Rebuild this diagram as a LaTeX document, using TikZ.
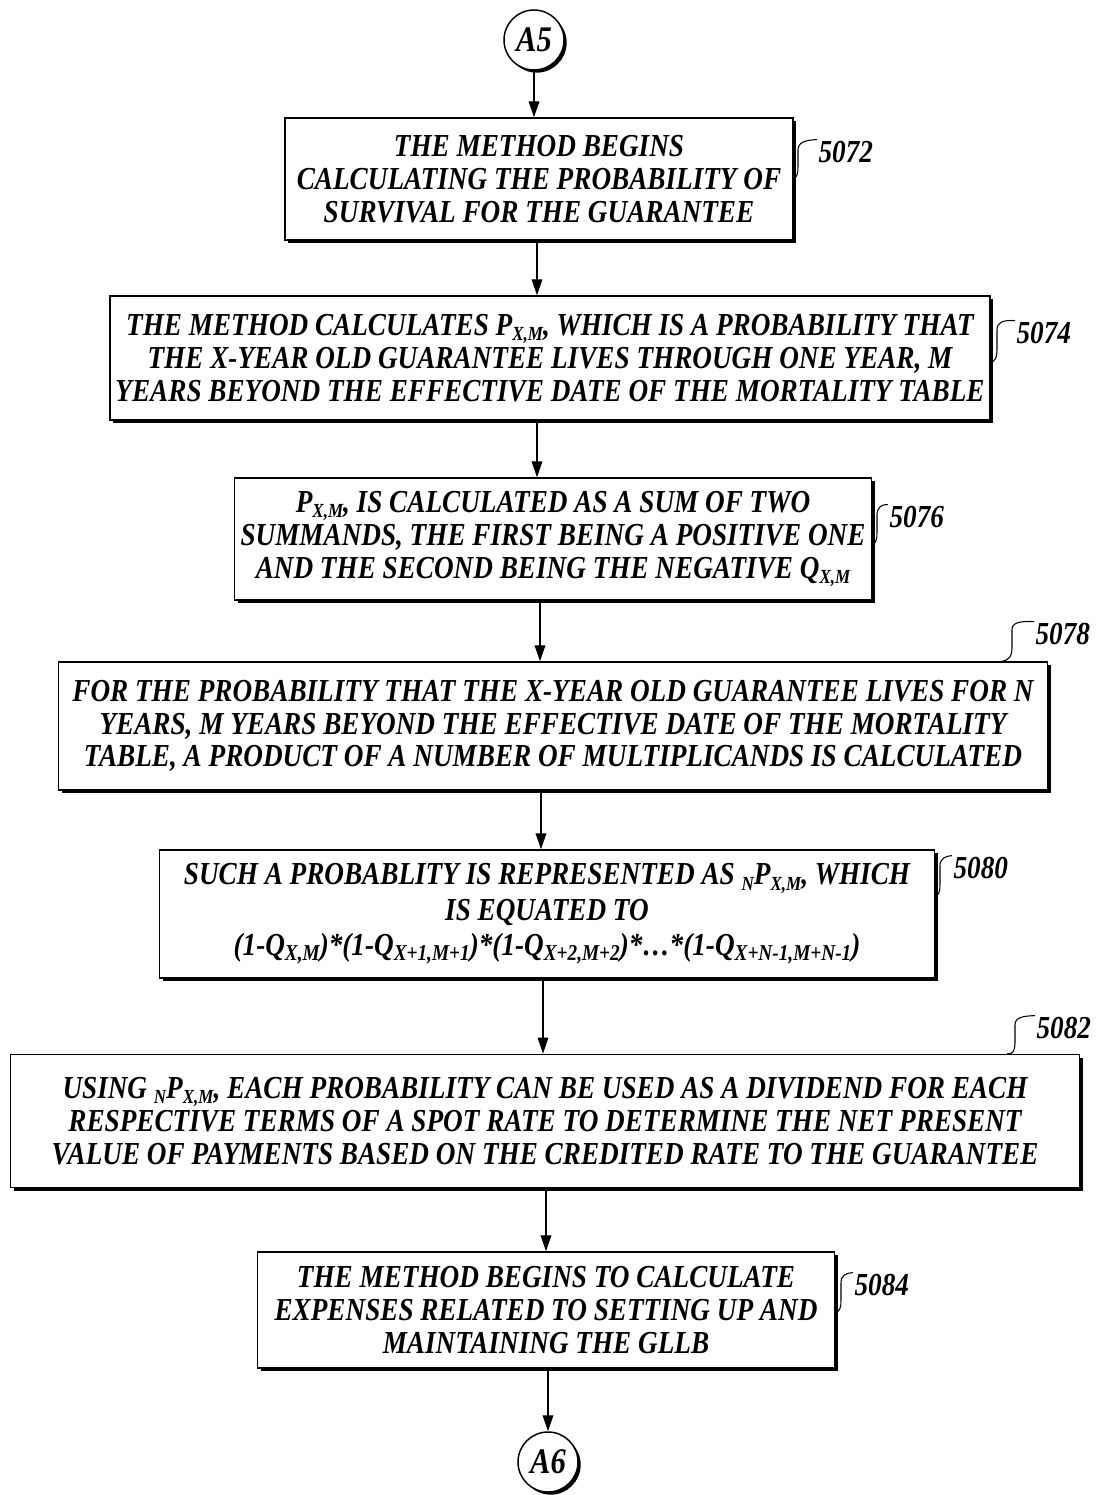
\documentclass[tikz,border=0pt]{standalone}
\usepackage{fontspec}
\setmainfont{Liberation Serif}[FakeStretch=0.85]
\usetikzlibrary{arrows.meta,shadows}
\newcommand\lowix[2][15]{\raisebox{-0.35ex}{\fontsize{#1}{#1}\selectfont #2}}

\begin{document}
\begin{tikzpicture}[x=0.75pt,y=0.75pt,yscale=-1,
  stepbox/.style={draw,line width=1.1pt,fill=white,align=center,inner sep=0pt,
    font=\fontsize{24}{24.5}\selectfont\bfseries\itshape,
    drop shadow={shadow xshift=2.4pt,shadow yshift=-2.4pt,fill=black,opacity=1}},
  joint/.style={draw,circle,line width=1.1pt,fill=white,minimum size=45pt,inner sep=0pt,
    font=\fontsize{27}{27}\selectfont\bfseries\itshape,
    drop shadow={shadow xshift=2pt,shadow yshift=-2pt,fill=black,opacity=1}},
  reflabel/.style={anchor=west,inner sep=1pt,font=\fontsize{24}{24}\selectfont\bfseries\itshape},
  flow/.style={line width=1pt,-{Triangle[length=12pt,width=8pt]}},
  hook/.style={line width=0.8pt}]
\useasboundingbox (0,0) rectangle (1096,1495);

% Connector Node
\node [joint] (a5) at (534,40) {A5};
% Process Node
\node [stepbox,minimum width=381pt,minimum height=91.5pt] (box1) at (539,179)
  {THE METHOD BEGINS\\ CALCULATING THE PROBABILITY OF\\ SURVIVAL FOR THE GUARANTEE};
% Process Node
\node [stepbox,minimum width=660pt,minimum height=93pt] (box2) at (550,358)
  {THE METHOD CALCULATES P\lowix{X,M}, WHICH IS A PROBABILITY THAT\\ THE X-YEAR OLD GUARANTEE LIVES THROUGH ONE YEAR, M\\ YEARS BEYOND THE EFFECTIVE DATE OF THE MORTALITY TABLE};
% Process Node
\node [stepbox,minimum width=478pt,minimum height=91.5pt] (box3) at (553,539)
  {P\lowix{X,M}, IS CALCULATED AS A SUM OF TWO\\ SUMMANDS, THE FIRST BEING A POSITIVE ONE\\ AND THE SECOND BEING THE NEGATIVE Q\lowix{X,M}};
% Process Node
\node [stepbox,minimum width=742pt,minimum height=96pt] (box4) at (553,726)
  {FOR THE PROBABILITY THAT THE X-YEAR OLD GUARANTEE LIVES FOR N\\ YEARS, M YEARS BEYOND THE EFFECTIVE DATE OF THE MORTALITY\\ TABLE, A PRODUCT OF A NUMBER OF MULTIPLICANDS IS CALCULATED};
% Process Node
\node [stepbox,minimum width=581pt,minimum height=96pt] (box5) at (547,914)
  {SUCH A PROBABLITY IS REPRESENTED AS \lowix{N}P\lowix{X,M}, WHICH\\[2pt] IS EQUATED TO\\[2pt]
   (1-Q\lowix[17]{X,M})*(1-Q\lowix[17]{X+1,M+1})*(1-Q\lowix[17]{X+2,M+2})*\dots*(1-Q\lowix[17]{X+N-1,M+N-1})};
% Process Node
\node [stepbox,minimum width=802pt,minimum height=100pt] (box6) at (545,1121)
  {USING \lowix{N}P\lowix{X,M}, EACH PROBABILITY CAN BE USED AS A DIVIDEND FOR EACH\\ RESPECTIVE TERMS OF A SPOT RATE TO DETERMINE THE NET PRESENT\\ VALUE OF PAYMENTS BASED ON THE CREDITED RATE TO THE GUARANTEE};
% Process Node
\node [stepbox,minimum width=433pt,minimum height=87pt] (box7) at (546,1310)
  {THE METHOD BEGINS TO CALCULATE\\ EXPENSES RELATED TO SETTING UP AND\\ MAINTAINING THE GLLB};
% Connector Node
\node [joint] (a6) at (548,1462) {A6};

% Text Node
\node [reflabel] (lbl1) at (817,152) {5072};
% Text Node
\node [reflabel] (lbl2) at (1015,333) {5074};
% Text Node
\node [reflabel] (lbl3) at (888,517) {5076};
% Text Node
\node [reflabel] (lbl4) at (1034,634) {5078};
% Text Node
\node [reflabel] (lbl5) at (952,868) {5080};
% Text Node
\node [reflabel] (lbl6) at (1035,1028) {5082};
% Text Node
\node [reflabel] (lbl7) at (853,1285) {5084};

% Arrow columns
\coordinate (col0) at (534,0);
\coordinate (col1) at (537,0);
\coordinate (col2) at (537,0);
\coordinate (col3) at (540,0);
\coordinate (col4) at (541,0);
\coordinate (col5) at (543,0);
\coordinate (col6) at (546,0);
\coordinate (col7) at (548,0);

% Connection
\draw [flow] (a5.south -| col0) -- (box1.north -| col0);
% Connection
\draw [flow] (box1.south -| col1) -- (box2.north -| col1);
% Connection
\draw [flow] (box2.south -| col2) -- (box3.north -| col2);
% Connection
\draw [flow] (box3.south -| col3) -- (box4.north -| col3);
% Connection
\draw [flow] (box4.south -| col4) -- (box5.north -| col4);
% Connection
\draw [flow] (box5.south -| col5) -- (box6.north -| col5);
% Connection
\draw [flow] (box6.south -| col6) -- (box7.north -| col6);
% Connection
\draw [flow] (box7.south -| col7) -- (a6.north -| col7);

% Reference hooks
\draw [hook] (box1.east |- 0,178) .. controls (797,178) and (798,173) .. (798,166) -- (798,150) .. controls (798,143) and (804,140) .. (lbl1.north west);
\draw [hook] (box2.east |- 0,362) .. controls (995,362) and (997,357) .. (997,350) -- (997,330) .. controls (997,322) and (1003,320) .. (lbl2.north west);
\draw [hook] (box3.east |- 0,544) .. controls (876,544) and (877,539) .. (877,532) -- (877,515) .. controls (877,507) and (882,504) .. (lbl3.north west);
\draw [hook] (box4.north -| 1002,0) .. controls (1010,660) and (1012,655) .. (1012,648) -- (1012,630) .. controls (1012,623) and (1018,621) .. (lbl4.north west);
\draw [hook] (box5.east |- 0,896) .. controls (939,896) and (940,891) .. (940,884) -- (940,866) .. controls (940,858) and (946,856) .. (lbl5.north west);
\draw [hook] (box6.north -| 1007,0) .. controls (1013,1055) and (1015,1050) .. (1015,1043) -- (1015,1025) .. controls (1015,1018) and (1021,1016) .. (lbl6.north west);
\draw [hook] (box7.east |- 0,1312) .. controls (840,1312) and (841,1307) .. (841,1300) -- (841,1283) .. controls (841,1275) and (846,1273) .. (lbl7.north west);

\end{tikzpicture}
\end{document}
